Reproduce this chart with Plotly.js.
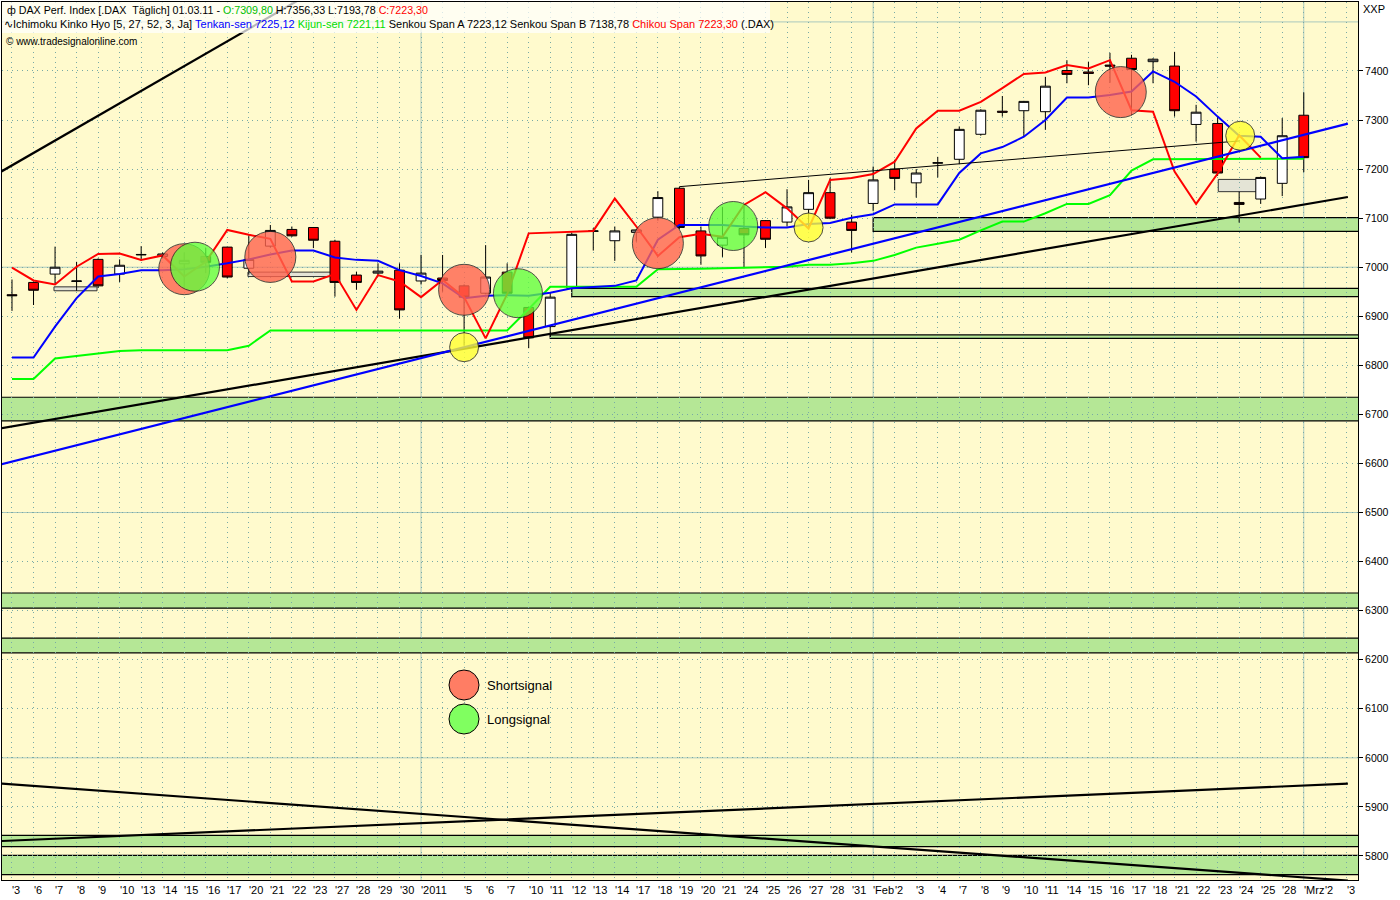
<!DOCTYPE html>
<html><head><meta charset="utf-8">
<script src="https://cdn.plot.ly/plotly-3.0.1.min.js"></script>
<style>html,body{margin:0;padding:0;background:#fff;}#chart{width:1400px;height:900px;}</style>
</head><body><div id="chart"></div>
<script>
// ---------- data ----------
const dates = ["2010-12-03","2010-12-06","2010-12-07","2010-12-08","2010-12-09","2010-12-10","2010-12-13","2010-12-14","2010-12-15","2010-12-16","2010-12-17","2010-12-20","2010-12-21","2010-12-22","2010-12-23","2010-12-27","2010-12-28","2010-12-29","2010-12-30",
"2011-01-03","2011-01-04","2011-01-05","2011-01-06","2011-01-07","2011-01-10","2011-01-11","2011-01-12","2011-01-13","2011-01-14","2011-01-17","2011-01-18","2011-01-19","2011-01-20","2011-01-21","2011-01-24","2011-01-25","2011-01-26","2011-01-27","2011-01-28","2011-01-31",
"2011-02-01","2011-02-02","2011-02-03","2011-02-04","2011-02-07","2011-02-08","2011-02-09","2011-02-10","2011-02-11","2011-02-14","2011-02-15","2011-02-16","2011-02-17","2011-02-18","2011-02-21","2011-02-22","2011-02-23","2011-02-24","2011-02-25","2011-02-28",
"2011-03-01","2011-03-02","2011-03-03"];
const tickLabels = ["'3","'6","'7","'8","'9","'10","'13","'14","'15","'16","'17","'20","'21","'22","'23","'27","'28","'29","'30",
"'2011","","'5","'6","'7","'10","'11","'12","'13","'14","'17","'18","'19","'20","'21","'24","'25","'26","'27","'28","'31",
"'Feb","'2","'3","'4","'7","'8","'9","'10","'11","'14","'15","'16","'17","'18","'21","'22","'23","'24","'25","'28",
"'Mrz","'2","'3"];
const priceTicks = [5800,5900,6000,6100,6200,6300,6400,6500,6600,6700,6800,6900,7000,7100,7200,7300,7400];

const openP  = [6944,6969,6986,6971,7016,6986,7025,7022,7007,7022,7041,6998,7043,7077,7081,7053,6984,6988,6994,6972,6978,6962,6947,6990,6918,6879,6957,7073,7054,7071,7102,7161,7074,7045,7079,7095,7092,7118,7152,7092,7130,7200,7172,7212,7220,7271,7318,7319,7317,7401,7398,7412,7426,7419,7410,7291,7293,7132,7139,7171,7309.80];
const highP  = [6975,6971,7042,7011,7018,7016,7043,7030,7030,7039,7042,7065,7086,7083,7082,7056,6991,7008,7008,7025,7025,6965,7045,7008,6920,6949,7070,7080,7083,7077,7155,7164,7083,7123,7127,7096,7159,7178,7182,7107,7205,7219,7200,7225,7287,7322,7349,7339,7388,7422,7419,7437,7433,7426,7439,7331,7307,7154,7185,7304,7356.33];
const lowP   = [6911,6923,6964,6952,6958,6970,7013,7018,6960,6988,6977,6985,7040,7062,7039,6940,6954,6981,6895,6965,6950,6840,6945,6945,6835,6858,6955,7034,7013,7052,7095,7078,7005,7021,6998,7039,7083,7079,7098,7030,7115,7157,7142,7183,7210,7268,7307,7266,7280,7375,7371,7376,7310,7375,7307,7256,7186,7091,7129,7145,7193.78];
const closeP = [6942,6953,7000,6972,6962,7004,7026,7027,7014,7010,6980,7016,7075,7064,7055,6969,6969,6992,6913,6988,6973,6939,6980,6947,6856,6939,7067,7074,7074,7076,7142,7081,7023,7061,7066,7057,7123,7152,7100,7075,7178,7181,7192,7213,7281,7320,7316,7338,7369,7393,7395,7410,7403,7424,7319,7316,7192,7128,7183,7268,7223.30];

const tenkanSen = [6816,6816,6879,6937,6981,6986,6994,6994,6996,7001,7008,7016,7026,7034,7034,7020,7015,7013,6994,6982,6967,6937,6942,6943,6942,6948,6957,6960,6962,6973,7056,7086,7086,7086,7083,7081,7081,7088,7090,7101,7108,7128,7128,7128,7192,7232,7245,7266,7300,7346,7346,7351,7358,7399,7378,7348,7307,7268,7266,7222,7225.12];
const kijunSen  = [6772,6772,6814,6819,6823,6829,6831,6831,6831,6831,6831,6840,6871,6871,6871,6871,6871,6871,6871,6871,6871,6871,6871,6871,6915,6960,6960,6960,6960,6960,6996,6996,6997,6998,6999,7000,7001,7005,7005,7008,7013,7025,7040,7048,7056,7075,7093,7093,7110,7129,7129,7147,7197,7220,7220,7220,7220,7220,7220,7220,7221.11];
const chikouSpan = [6999,6973,6965,7001,7027,7028,7015,7024,6981,7011,7076,7066,7058,6971,6971,6986,6913,6984,6971,6939,6974,6939,6855,6945,7069,7071,7073,7074,7140,7083,7023,7061,7068,7062,7127,7153,7120,7079,7178,7182,7190,7215,7283,7319,7319,7337,7365,7394,7397,7412,7405,7422,7320,7317,7195,7129,7191,7269,7223.30];

// signals (x = trading-day index)
const shortSigX = [8.0, 12.0, 21.0, 30.0, 51.5];
const shortSigY = [6996, 7021, 6954, 7049, 7357];
const longSigX  = [8.5, 23.5, 33.5];
const longSigY  = [7001, 6947, 7084];
const touchX    = [21.0, 37.0, 57.05];
const touchY    = [6837, 7081, 7268];

// support zones (null start = whole width)
const zoneStart = [40, 26, 25, null, null, null, null, null];
const zoneLow   = [7073, 6940, 6855, 6687, 6305, 6214, 5819, 5762];
const zoneHigh  = [7101, 6957, 6862, 6735, 6336, 6244, 5842, 5801];

// gap boxes
const gapStart = [1.95, 10.96, 56.03];
const gapEnd   = [3.95, 14.96, 58.04];
const gapLow   = [6952, 6981, 7154];
const gapHigh  = [6960, 6990, 7179];

// trend lines (index/value end points)
const trendX0 = [-1, -1, -1, 31.0, -1, -1];
const trendY0 = [7182.3, 6668.2, 6592.7, 7164.2, 5949.0, 5829.5];
const trendX1 = [14, 62.05, 62.05, 57.04, 62.05, 62.05];
const trendY1 = [7561.8, 7143.2, 7292.8, 7257.5, 5749.8, 5947.3];
const trendKind = ["black","black","blue","thin","black","black"];

const legendLabels = ["Shortsignal", "Longsignal"];

// ---------- build ----------
const FONT = "Liberation Sans, Arial, sans-serif";
const idx = dates.map((d, i) => i);
const xRange = [-0.464, 62.52];
const yRange = [5751, 7540.6];

const traces = [];
traces.push({type:'scatter', mode:'lines', x: idx.slice(0, kijunSen.length), y: kijunSen,
  line:{color:'#00ff00', width:2}, hoverinfo:'skip'});
traces.push({type:'scatter', mode:'lines', x: idx.slice(0, tenkanSen.length), y: tenkanSen,
  line:{color:'#0000ff', width:2}, hoverinfo:'skip'});
traces.push({type:'scatter', mode:'lines', x: idx.slice(0, chikouSpan.length), y: chikouSpan,
  line:{color:'#ff0000', width:2}, hoverinfo:'skip'});
traces.push({type:'candlestick', x: idx.slice(0, closeP.length), open: openP, high: highP, low: lowP, close: closeP,
  increasing:{line:{color:'#000', width:1}, fillcolor:'#ffffff'},
  decreasing:{line:{color:'#000', width:1}, fillcolor:'#ff0000'},
  whiskerwidth:0, hoverinfo:'skip'});
for (let i = 0; i < trendX0.length; i++) {
  const k = trendKind[i];
  traces.push({type:'scatter', mode:'lines', x:[trendX0[i], trendX1[i]], y:[trendY0[i], trendY1[i]],
    line:{color: k === 'blue' ? '#0000ff' : '#000000', width: k === 'thin' ? 1 : 2.2}, hoverinfo:'skip'});
}
traces.push({type:'scatter', mode:'markers', x: shortSigX, y: shortSigY, hoverinfo:'skip',
  marker:{size:51, color:'rgb(255,100,78)', opacity:0.8, line:{color:'#222', width:1}}});
traces.push({type:'scatter', mode:'markers', x: longSigX, y: longSigY, hoverinfo:'skip',
  marker:{size:49, color:'rgb(95,255,60)', opacity:0.78, line:{color:'#222', width:1}}});
traces.push({type:'scatter', mode:'markers', x: touchX, y: touchY, hoverinfo:'skip',
  marker:{size:29, color:'rgb(255,255,50)', opacity:0.8, line:{color:'#222', width:1}}});

const shapes = [];
// month separators from dates
for (let i = 1; i < dates.length; i++) {
  if (dates[i].slice(5,7) !== dates[i-1].slice(5,7)) {
    shapes.push({type:'line', layer:'below', xref:'x', yref:'paper', x0:i, x1:i, y0:0, y1:1,
      line:{color:'rgb(170,200,190)', width:1}});
  }
}
for (let v = Math.ceil(yRange[0]/500)*500; v <= yRange[1]; v += 500) {
  shapes.push({type:'line', layer:'below', xref:'paper', yref:'y', x0:0, x1:1, y0:v, y1:v,
    line:{color:'rgb(170,200,190)', width:1}});
}
for (let i = 0; i < zoneLow.length; i++) {
  shapes.push({type:'rect', layer:'below', xref:'x', yref:'y',
    x0: zoneStart[i] === null ? xRange[0] - 1 : zoneStart[i], x1: xRange[1] + 1,
    y0: zoneLow[i], y1: zoneHigh[i], fillcolor:'rgb(181,231,150)', line:{color:'#000', width:1.2}});
}
for (let i = 0; i < gapLow.length; i++) {
  shapes.push({type:'rect', layer:'below', xref:'x', yref:'y', x0: gapStart[i], x1: gapEnd[i],
    y0: gapLow[i], y1: gapHigh[i], fillcolor:'rgba(225,225,215,0.9)', line:{color:'#333', width:1}});
}
// header backdrop
const plotW = 1356, plotH = 878;
shapes.push({type:'rect', layer:'above', xref:'paper', yref:'paper', x0:0, x1:768/plotW, y0:1-31/plotH, y1:1,
  fillcolor:'rgba(255,255,255,0.72)', line:{width:0}});
// legend circles
const legendColors = ['rgb(255,125,100)', 'rgb(128,255,96)'];
const legendPy = [685, 719];
legendLabels.forEach((t, i) => {
  shapes.push({type:'circle', layer:'above', xref:'paper', yref:'paper', xsizemode:'pixel', ysizemode:'pixel',
    xanchor:(464-2)/plotW, yanchor:1-(legendPy[i]-2)/plotH, x0:-15, x1:15, y0:-15, y1:15,
    fillcolor:legendColors[i], line:{color:'#000', width:1}});
});

const annotations = [];
tickLabels.forEach((t, i) => {
  if (!t) return;
  annotations.push({x:i, xref:'x', y:0, yref:'paper', yanchor:'top', xanchor:'left', xshift:-2, yshift:-2,
    text:t, showarrow:false, font:{family:FONT, size:11, color:'#000'}});
});
legendLabels.forEach((t, i) => {
  annotations.push({x:(485-2)/plotW, xref:'paper', y:1-(legendPy[i]-2)/plotH, yref:'paper',
    xanchor:'left', yanchor:'middle', text:t, showarrow:false, font:{family:FONT, size:13, color:'#000'}});
});
const hdr = (py) => 1 - (py - 2)/plotH;
annotations.push({x:0, xref:'paper', y:hdr(9.5), yref:'paper', xanchor:'left', yanchor:'middle', xshift:3, showarrow:false,
  font:{family:FONT, size:10.7, color:'#000'},
  text:'ф DAX Perf. Index [.DAX\u00a0\u00a0Täglich] 01.03.11 - <span style="color:#00c000">O:7309,80</span> H:7356,33 L:7193,78 <span style="color:#ff0000">C:7223,30</span>'});
annotations.push({x:0, xref:'paper', y:hdr(24.5), yref:'paper', xanchor:'left', yanchor:'middle', xshift:0, showarrow:false,
  font:{family:FONT, size:11, color:'#000'},
  text:'∿Ichimoku Kinko Hyo [5, 27, 52, 3, Ja] <span style="color:#0000ff">Tenkan-sen 7225,12</span> <span style="color:#00dd00">Kijun-sen 7221,11</span> Senkou Span A 7223,12 Senkou Span B 7138,78 <span style="color:#ff0000">Chikou Span 7223,30</span> (.DAX)'});
annotations.push({x:0, xref:'paper', y:hdr(41), yref:'paper', xanchor:'left', yanchor:'middle', xshift:2, showarrow:false,
  font:{family:FONT, size:10, color:'#000'}, text:'© www.tradesignalonline.com'});
annotations.push({x:1, xref:'paper', y:hdr(9), yref:'paper', xanchor:'left', yanchor:'middle', xshift:3, showarrow:false,
  font:{family:FONT, size:11, color:'#000'}, text:'XXP'});

const layout = {
  width:1400, height:900, margin:{l:2, r:42, t:2, b:20},
  paper_bgcolor:'#ffffff', plot_bgcolor:'rgb(255,250,205)',
  showlegend:false, hovermode:false, boxgap:0.35,
  xaxis:{type:'linear', range:xRange, showgrid:true, tick0:0, dtick:1, griddash:'1px,4px',
    gridcolor:'rgb(120,170,165)', gridwidth:1, showticklabels:false, ticks:'',
    showline:true, mirror:true, linecolor:'#000', linewidth:1, zeroline:false,
    rangeslider:{visible:false}, fixedrange:true},
  yaxis:{side:'right', range:yRange, tickmode:'array', tickvals:priceTicks, ticktext:priceTicks.map(String),
    showgrid:true, griddash:'1px,4px',
    gridcolor:'rgb(120,170,165)', ticks:'outside', ticklen:4, tickcolor:'#000',
    tickfont:{family:FONT, size:10.5, color:'#000'}, showline:true, mirror:true, linecolor:'#000',
    linewidth:1, zeroline:false, fixedrange:true},
  shapes:shapes, annotations:annotations
};
Plotly.newPlot('chart', traces, layout, {staticPlot:true, displayModeBar:false});
</script></body></html>
